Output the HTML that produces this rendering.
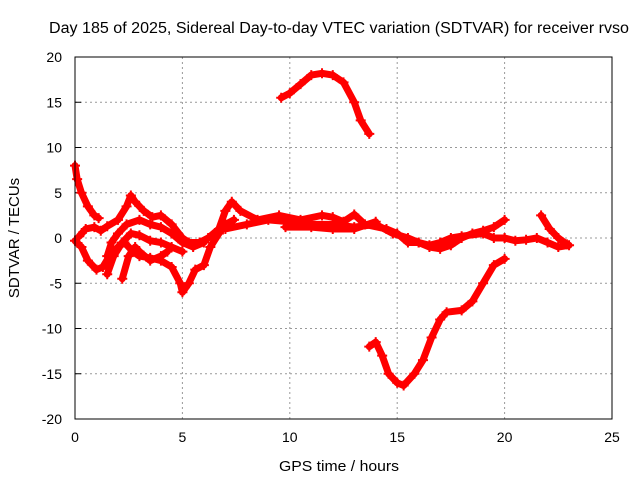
<!DOCTYPE html>
<html><head><meta charset="utf-8"><style>
body{margin:0;background:#fff}
svg{display:block;font-family:"Liberation Sans",sans-serif}
</style></head><body>
<svg id="chart" width="640" height="480" viewBox="0 0 640 480">
<rect width="640" height="480" fill="#fff"/>
<text x="339" y="33" font-size="15.5" text-anchor="middle" textLength="580" lengthAdjust="spacingAndGlyphs">Day 185 of 2025, Sidereal Day-to-day VTEC variation (SDTVAR) for receiver rvso</text>
<text x="339" y="471" font-size="15" text-anchor="middle" textLength="120" lengthAdjust="spacingAndGlyphs">GPS time / hours</text>
<text transform="translate(19,238) rotate(-90)" font-size="15" text-anchor="middle">SDTVAR / TECUs</text>
<g id="grid"></g>
<g id="ticks"></g>
<g id="series"></g>
<rect x="75" y="57" width="537" height="362" fill="none" stroke="#000" stroke-width="1"/>
</svg>
<script>
const xTicks=[0,5,10,15,20,25];
const yTicks=[-20,-15,-10,-5,0,5,10,15,20];
const trackA=[[0,-0.3],[0.3,-1],[0.6,-2.5],[1,-3.5],[1.3,-3.2],[1.6,-2],[2,-1],[2.3,-0.5],[2.7,-1.5],[3,-2],[3.5,-2.2],[4,-2.5],[4.5,-3.2],[4.9,-5],[5,-6],[5.3,-5],[5.6,-3.5],[6,-3],[6.3,-1],[6.7,0.5],[7,1.5],[7.4,2]];
const trackB=[[0.2,0.2],[0.5,1],[0.9,1.2],[1.2,0.8],[1.5,1.3],[2,2],[2.4,3.5],[2.6,4.7],[2.8,4],[3.2,3],[3.6,2.3],[4,2.5],[4.5,1.5],[5,0],[5.3,-0.5],[5.8,-0.5],[6.2,0],[6.7,1],[7,3],[7.3,4],[7.7,3],[8.5,2],[9.5,2.5],[10.5,2],[11.5,2.5],[12,2.3],[12.5,1.8],[13,2.6],[13.5,1.5],[14.5,1],[15,0.5],[15.5,-0.5],[16,-0.5],[16.5,-1],[17,-1.2],[17.5,-0.8],[18,0],[18.5,0.5],[19,0.8],[19.5,1.2],[20,2]];
const trackC=[[1.5,-2],[1.7,-0.5],[2,0.5],[2.4,1.5],[3,2],[3.5,1.5],[4,1.2],[4.5,0.5],[5,-0.5],[5.5,-1],[6,-0.5]];
const trackD=[[1.5,-4],[1.8,-2],[2.2,-0.5],[2.6,0.5],[3,0.3],[3.5,-0.3],[4,-0.5],[4.5,-1],[5,-1.5]];
const trackE=[[2.2,-4.5],[2.5,-2],[2.8,-1],[3,-1.5],[3.5,-2.5],[4,-2],[4.3,-1.5]];
const trackF=[[7,1],[8,1.5],[9,2],[10,1.8],[11,1.5],[12,1.5],[13,1.2],[14,1.5],[14.8,0.5],[15.5,0],[16,-0.5],[16.5,-0.8],[17,-0.5],[17.5,0],[18,0.2],[19,0.5],[19.5,0],[20,0]];
const trackG=[[9.8,1.2],[11,1.2],[12,1],[13,1],[14,1.8]];
const trackH=[[0,8],[0.1,6.5],[0.3,5],[0.6,3.5],[0.9,2.5],[1.1,2.2]];
const trackI=[[20,0],[20.5,-0.3],[21,-0.2],[21.5,0],[22,-0.5],[22.5,-1],[23,-0.8]];
const trackJ=[[21.7,2.5],[22.1,1],[22.5,0],[22.9,-0.7]];
const trackK=[[9.6,15.5],[10,16],[10.5,17],[11,18],[11.5,18.2],[12,18],[12.5,17.2],[13,15],[13.3,13],[13.7,11.5]];
const trackL=[[13.7,-12],[14,-11.5],[14.3,-13],[14.6,-15],[15,-16],[15.3,-16.3],[15.8,-15],[16.2,-13.5],[16.6,-11],[17,-9],[17.3,-8.2],[18,-8],[18.5,-7],[19,-5],[19.5,-3],[20,-2.3]];
const tracks=[trackA,trackB,trackC,trackD,trackE,trackF,trackG,trackH,trackI,trackJ,trackK,trackL];

const X=h=>75+h*(537/25);
const Y=v=>238-v*(362/40);
const NS="http://www.w3.org/2000/svg";
const grid=document.getElementById('grid'),ticks=document.getElementById('ticks'),ser=document.getElementById('series');
function mk(tag,at,parent){const e=document.createElementNS(NS,tag);for(const k in at)e.setAttribute(k,at[k]);parent.appendChild(e);return e;}
xTicks.forEach(t=>{
  if(t>0&&t<25){const g=mk('line',{x1:X(t),x2:X(t),y1:57,y2:419,stroke:'#999','stroke-dasharray':'2,3'},grid);
  
  }
  const tl=mk('text',{x:X(t),y:442,'font-size':14,'text-anchor':'middle'},ticks);tl.textContent=t;
  
  
});
yTicks.forEach(t=>{
  if(t>-20&&t<20){const g=mk('line',{x1:75,x2:612,y1:Y(t),y2:Y(t),stroke:'#999','stroke-dasharray':'2,3'},grid);
  
  
  mk('line',{x1:75,x2:81,y1:Y(t),y2:Y(t),stroke:'#000'},ticks);}
  const tl=mk('text',{x:62,y:Y(t)+5,'font-size':14,'text-anchor':'end'},ticks);tl.textContent=t;
  
  
});
tracks.forEach((tr,i)=>{
  const pl=mk('polyline',{points:tr.map(p=>X(p[0])+','+Y(p[1])).join(' '),fill:'none',stroke:'#f00','stroke-width':7,'stroke-linejoin':'round','stroke-linecap':'round'},ser);
  
  
  tr.forEach(p=>{
    const x=X(p[0]),y=Y(p[1]);
    const m=mk('path',{d:`M${x-5},${y}H${x+5}M${x},${y-5}V${y+5}`,stroke:'#f00','stroke-width':2},ser);
    
    
  });
});
</script>
</body></html>
